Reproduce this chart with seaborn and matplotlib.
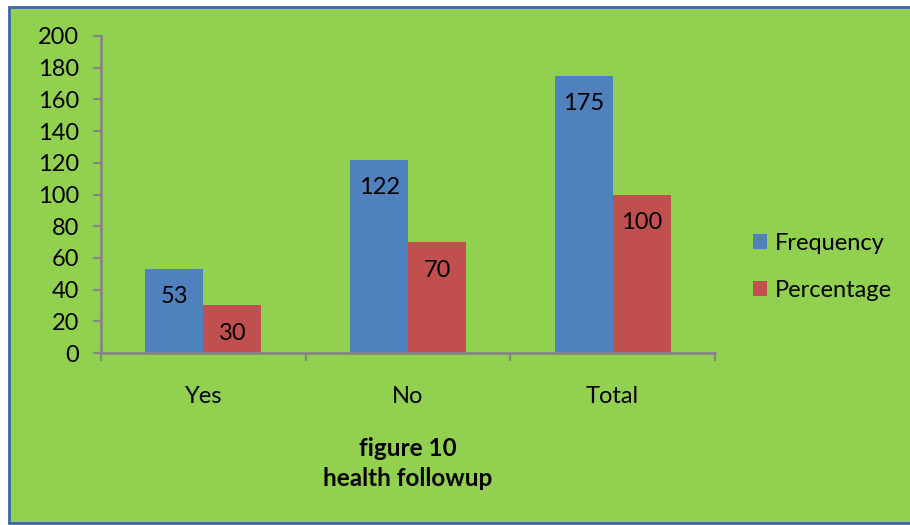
import matplotlib
matplotlib.use("Agg")
import matplotlib.pyplot as plt
from matplotlib.patches import Rectangle, Patch
import seaborn as sns
import pandas as pd

categories = ["Yes", "No", "Total"]
frequency = [53, 122, 175]
percentage = [30, 70, 100]
series_names = ["Frequency", "Percentage"]
y_ticks = [0, 20, 40, 60, 80, 100, 120, 140, 160, 180, 200]
title_lines = ["figure 10", "health followup"]

colors = {"Frequency": "#4F81BD", "Percentage": "#C0504D"}
bg = "#92D050"
axis_gray = "#868686"

sns.set_theme(style="white")
plt.rcParams["font.family"] = ["Lato", "DejaVu Sans"]
plt.rcParams["text.color"] = "black"
plt.rcParams["xtick.labelcolor"] = "black"
plt.rcParams["ytick.labelcolor"] = "black"

df = pd.DataFrame({
    "category": categories * 2,
    "series": [series_names[0]] * 3 + [series_names[1]] * 3,
    "value": frequency + percentage,
})

fig = plt.figure(figsize=(9.10, 5.25), dpi=100, facecolor="white")
# green panel with blue border, kept behind the axes
panel = Rectangle((9 / 910, 2 / 525), 1.0, 516 / 525,
                  transform=fig.transFigure, facecolor=bg,
                  edgecolor="#3F65A8", linewidth=2.0, zorder=-10)
fig.add_artist(panel)

ax = fig.add_axes([101 / 910, 1 - 353 / 525, 614 / 910, 317 / 525])
ax.set_facecolor("none")
ax.set_zorder(1)

sns.barplot(data=df, x="category", y="value", hue="series", order=categories,
            hue_order=series_names, palette=colors, width=0.566,
            saturation=1, ax=ax, legend=False, edgecolor="none", linewidth=0)

for container in ax.containers:
    for bar in container:
        h = bar.get_height()
        ax.annotate(f"{h:g}", (bar.get_x() + bar.get_width() / 2, h),
                    xytext=(0, -28), textcoords="offset pixels",
                    ha="center", va="center", fontsize=17, color="black")

ax.set_xlim(-0.5, 2.5)
ax.set_ylim(0, 200)
ax.set_yticks(y_ticks)
ax.set_xticks([-0.5, 0.5, 1.5, 2.5], minor=True)
ax.tick_params(axis="x", which="major", length=0, pad=24, labelsize=17)
ax.tick_params(axis="x", which="minor", length=6, width=1.5, color=axis_gray,
               direction="out", bottom=True)
ax.tick_params(axis="y", length=6, width=1.5, color=axis_gray,
               direction="out", left=True, pad=10, labelsize=17)
ax.set_xlabel("")
ax.set_ylabel("")
for s in ["top", "right"]:
    ax.spines[s].set_visible(False)
for s in ["left", "bottom"]:
    ax.spines[s].set_color(axis_gray)
    ax.spines[s].set_linewidth(2)

fig.text(408 / 910, 1 - 449 / 525, title_lines[0], ha="center", va="center",
         fontsize=17.5, fontweight="bold", color="black")
fig.text(408 / 910, 1 - 479 / 525, title_lines[1], ha="center", va="center",
         fontsize=17.5, fontweight="bold", color="black")

handles = [Patch(facecolor=colors[n], edgecolor="none") for n in series_names]
fig.legend(handles, series_names, loc="center left",
           bbox_to_anchor=(732 / 910, 1 - 267 / 525), frameon=False,
           fontsize=17, handlelength=0.6, handleheight=0.6,
           handletextpad=0.3, labelspacing=1.1, labelcolor="black")

fig.savefig("out.png", dpi=100, facecolor=fig.get_facecolor())
